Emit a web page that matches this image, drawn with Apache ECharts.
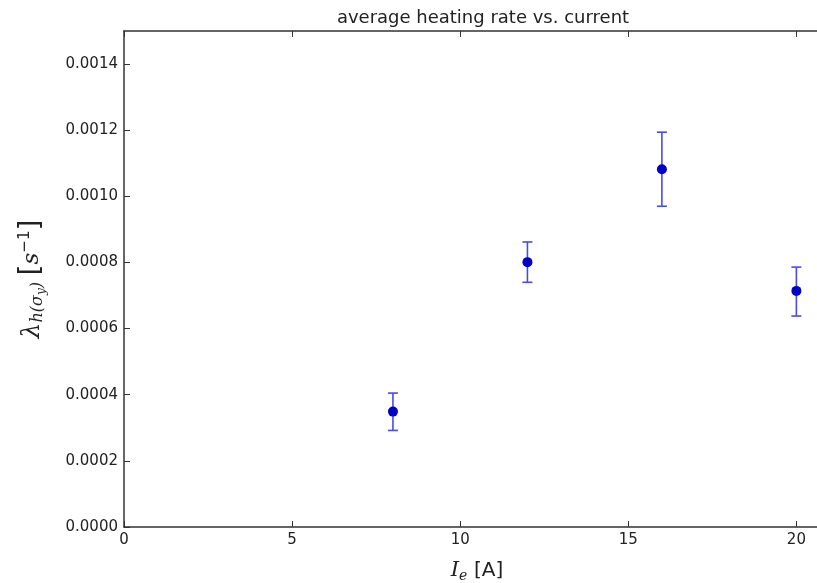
<!DOCTYPE html>
<html>
<head>
<meta charset="utf-8">
<script src="https://cdn.jsdelivr.net/npm/echarts@6/dist/echarts.min.js"></script>
<style>
html,body{margin:0;padding:0;background:#fff;}
#chart{width:817px;height:583px;}
</style>
</head>
<body>
<div id="chart"></div>
<script>
// Data
const currents = [8, 12, 16, 20];
const heatingRate = [0.000349, 0.000801, 0.001082, 0.000714];
const errLower = [0.000292, 0.000740, 0.000970, 0.000638];
const errUpper = [0.000405, 0.000862, 0.001194, 0.000786];
const xTicks = [0, 5, 10, 15, 20];
const yTicks = [0, 0.0002, 0.0004, 0.0006, 0.0008, 0.0010, 0.0012, 0.0014];

const chart = echarts.init(document.getElementById('chart'));
const font = 'DejaVu Sans';
const pointData = currents.map((x, i) => [x, heatingRate[i]]);
const errData = currents.map((x, i) => [x, errLower[i], errUpper[i]]);

const option = {
  animation: false,
  backgroundColor: '#ffffff',
  title: {
    text: 'average heating rate vs. current',
    left: 478, top: 4, textAlign: 'center',
    textStyle: { fontFamily: font, fontSize: 18, fontWeight: 'normal', color: '#222' }
  },
  grid: { left: 124, top: 31, right: -13, bottom: 56, containLabel: false, outerBoundsMode: 'none' },
  xAxis: [{
    type: 'value', min: 0, max: 21, interval: 5,
    position: 'bottom',
    axisLine: { show: true, onZero: false, lineStyle: { color: '#333', width: 1.5 } },
    axisTick: { show: true, inside: true, length: 6, lineStyle: { color: '#333' }, customValues: xTicks },
    axisLabel: { fontFamily: font, fontSize: 15, color: '#222', margin: 6,
      customValues: xTicks },
    splitLine: { show: false },
    name: '{i|I}{s|e}  {n|[A]}',
    nameLocation: 'middle', nameGap: 32,
    nameTextStyle: {
      rich: {
        i: { fontFamily: 'DejaVu Serif', fontStyle: 'italic', fontSize: 21, color: '#222' },
        s: { fontFamily: 'DejaVu Serif', fontStyle: 'italic', fontSize: 14, color: '#222', padding: [10, 0, 0, 0] },
        n: { fontFamily: font, fontSize: 20, color: '#222' }
      }
    }
  }, {
    type: 'value', min: 0, max: 21, interval: 5,
    position: 'top',
    axisLine: { show: true, onZero: false, lineStyle: { color: '#333', width: 1.5 } },
    axisTick: { show: true, inside: true, length: 6, lineStyle: { color: '#333' }, customValues: xTicks },
    axisLabel: { show: false },
    splitLine: { show: false }
  }],
  yAxis: [{
    type: 'value', min: 0, max: 0.0015, interval: 0.0002,
    axisLine: { show: true, onZero: false, lineStyle: { color: '#333', width: 1.5 } },
    axisTick: { show: true, inside: true, length: 6, lineStyle: { color: '#333' },
      customValues: yTicks },
    axisLabel: { fontFamily: font, fontSize: 15, color: '#222', margin: 6,
      customValues: yTicks,
      formatter: v => v.toFixed(4) },
    splitLine: { show: false },
    name: '{l|λ}{s|h(σ}{ss|y}{s|)}  {b|[}{i|s}{p|−1}{b|]}',
    nameLocation: 'middle', nameGap: 76, nameRotate: 90,
    nameTextStyle: {
      rich: {
        l: { fontFamily: 'DejaVu Serif', fontStyle: 'italic', fontSize: 25, color: '#222' },
        s: { fontFamily: 'DejaVu Serif', fontStyle: 'italic', fontSize: 16, color: '#222', padding: [12, 0, 0, 0] },
        ss: { fontFamily: 'DejaVu Serif', fontStyle: 'italic', fontSize: 12, color: '#222', padding: [20, 0, 0, 0] },
        b: { fontFamily: 'DejaVu Sans', fontSize: 28, color: '#222' },
        i: { fontFamily: 'DejaVu Serif', fontStyle: 'italic', fontSize: 23, color: '#222' },
        p: { fontFamily: 'DejaVu Sans', fontSize: 15, color: '#222', padding: [0, 0, 14, 0] }
      }
    }
  }],
  series: [{
    type: 'custom',
    xAxisIndex: 0, yAxisIndex: 0,
    data: errData,
    z: 2,
    renderItem: function (params, api) {
      const x = api.value(0);
      const lo = api.coord([x, api.value(1)]);
      const hi = api.coord([x, api.value(2)]);
      const cap = 5;
      const style = { stroke: '#4a4ae8', lineWidth: 1.6 };
      return {
        type: 'group',
        children: [
          { type: 'line', shape: { x1: lo[0], y1: lo[1], x2: hi[0], y2: hi[1] }, style: style },
          { type: 'line', shape: { x1: lo[0] - cap, y1: lo[1], x2: lo[0] + cap, y2: lo[1] }, style: style },
          { type: 'line', shape: { x1: hi[0] - cap, y1: hi[1], x2: hi[0] + cap, y2: hi[1] }, style: style }
        ]
      };
    }
  }, {
    type: 'scatter',
    xAxisIndex: 0, yAxisIndex: 0,
    data: pointData,
    symbol: 'circle', symbolSize: 10,
    itemStyle: { color: '#0000c8', opacity: 1 },
    z: 3
  }]
};
chart.setOption(option);
</script>
</body>
</html>
